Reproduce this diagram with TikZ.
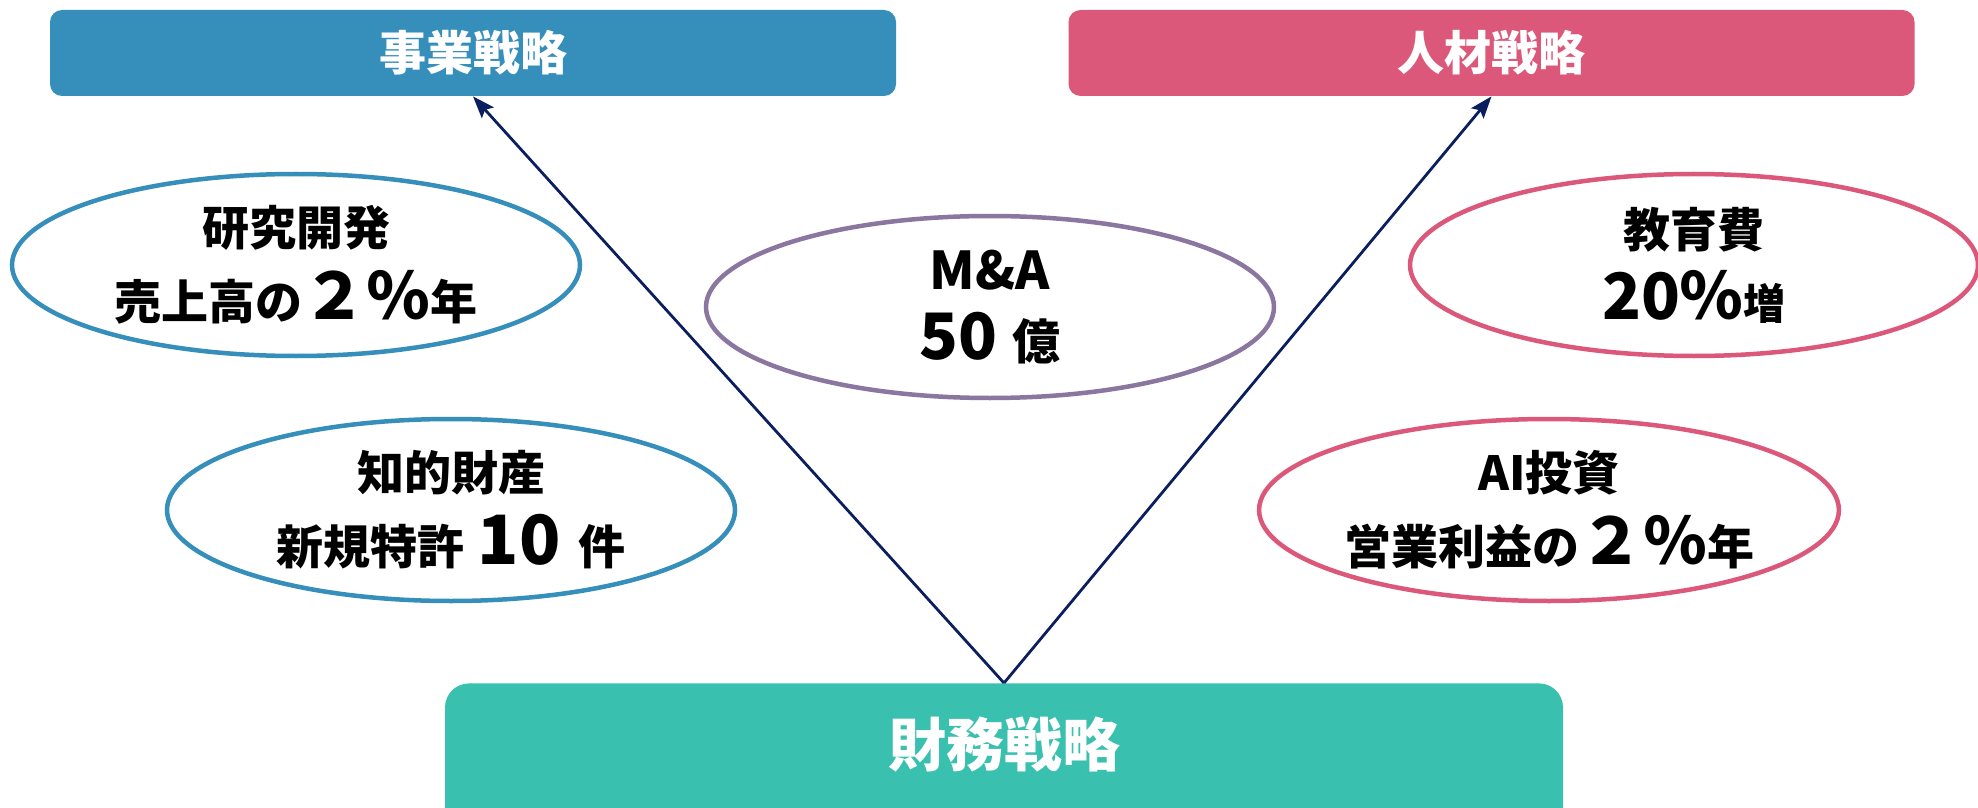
\documentclass[tikz,border=0pt]{standalone}
\usepackage{fontspec}
\setmainfont{Noto Sans CJK JP}
\usetikzlibrary{shapes.geometric,arrows.meta}
\definecolor{bizblue}{HTML}{368EBA}
\definecolor{hrpink}{HTML}{DC587A}
\definecolor{mapurple}{HTML}{8B76A0}
\definecolor{finteal}{HTML}{3AC0AE}
\definecolor{arrownavy}{HTML}{0B1F5E}
\newcommand\myfs[1]{\fontsize{#1}{#1}\selectfont}
\tikzset{
  stratbox/.style={rectangle, rounded corners=6pt, inner sep=0pt, text=white,
    font=\bfseries\myfs{23.5}, minimum width=423pt, minimum height=43pt},
  goal/.style={ellipse, draw, line width=2.25pt, fill=white, minimum width=284pt,
    minimum height=91pt, inner sep=0pt, align=center,
    font=\bfseries\fontsize{23.5}{37}\selectfont},
  flow/.style={draw=arrownavy, line width=1.4pt,
    -{Stealth[length=11pt,width=8pt,inset=2pt]}}
}
\begin{document}
\begin{tikzpicture}[x=0.5pt,y=-0.5pt]
\useasboundingbox (0,0) rectangle (1978,808);
\clip (0,0) rectangle (1978,808);
% strategy boxes
\node[stratbox, fill=bizblue] (biz) at (473,53) {事業戦略};
\node[stratbox, fill=hrpink] (hr) at (1491.5,53) {人材戦略};
\node[rectangle, rounded corners=12pt, fill=finteal, minimum width=559pt,
      minimum height=80pt, inner sep=0pt, anchor=north] (fin) at (1004,683) {};
\node[text=white, font=\bfseries\myfs{29}, inner sep=0pt] (fint) at (1004,745) {財務戦略};
% goal ellipses
\node[goal, draw=bizblue] (rd) at (296,265) {研究開発\\売上高の{\myfs{32}２％}年};
\node[goal, draw=bizblue] (ip) at (451,510) {知的財産\\新規特許\hspace{6.5pt}{\myfs{34}10}\hspace{9pt}件};
\node[goal, draw=mapurple, font=\bfseries\fontsize{24}{35}\selectfont] (ma) at (990,307) {{\myfs{26}M\&A}\\{\myfs{32}50}\hspace{8pt}億};
\node[goal, draw=hrpink, font=\bfseries\fontsize{23.5}{36}\selectfont] (edu) at (1694,265) {教育費\\{\myfs{32}20％}{\myfs{21}増}};
\node[goal, draw=hrpink] (ai) at (1549,510) {AI投資\\営業利益の{\myfs{32}２％}年};
% connectors
\draw[flow] (fin.north) -- (biz.south);
\draw[flow] (fin.north) -- (hr.south);
\end{tikzpicture}
\end{document}
